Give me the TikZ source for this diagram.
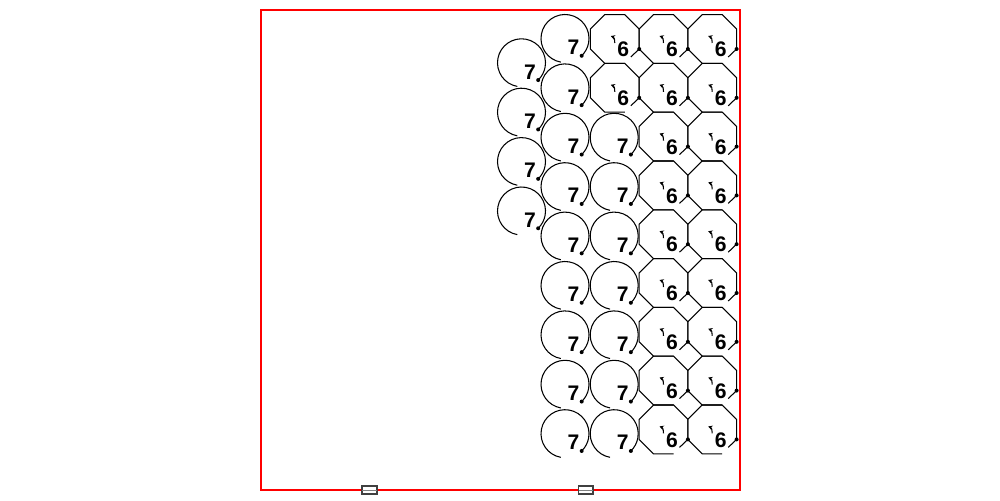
\documentclass[tikz,border=0pt]{standalone}
\usepackage{fontspec}
\setmainfont{Liberation Sans}
\usetikzlibrary{arrows.meta}

\tikzset{
  outline/.style={black, line width=0.6pt},
  digit/.style={inner sep=0pt, font=\fontsize{12}{14}\selectfont\bfseries},
  seven/.pic={
    \draw[outline] (100:24) arc[start angle=100, end angle=406, radius=24];
    \fill (46:24) circle[radius=2];
    \node[digit] (-num) at (8.5,9) {7};
  },
  six/.pic={
    \draw[outline] (10,24.4) -- (-10,24.4) -- (-24.4,10) -- (-24.4,-10) -- (-10,-24.4)
      -- (10,-24.4) -- (24.4,-10) -- (24.4,10) -- (16,18);
    \fill (24.4,10) circle[radius=2];
    \draw[black, line width=0.6pt, -{Stealth[length=2.4pt,width=2.6pt]}] (0,4) to[bend right=40] (-4,-3);
    \node[digit] (-num) at (8.5,10.5) {6};
  }
}

\begin{document}
\begin{tikzpicture}[x=0.02cm, y=-0.02cm]
  \useasboundingbox (0,0) rectangle (1000,500);
  \draw[red, line width=0.6pt] (261,10) rectangle (740,490);
  \draw[darkgray, fill=white, line width=0.6pt] (362,486) rectangle (377,494);
  \draw[gray, line width=0.8pt] (362,490.5) -- (377,490.5);
  \draw[darkgray, fill=white, line width=0.6pt] (578.5,486) rectangle (593,494);
  \draw[gray, line width=0.8pt] (578.5,490.5) -- (593,490.5);

  \pic (a1) at (521.5,62.8) {seven};
  \pic (a2) at (521.5,112.2) {seven};
  \pic (a3) at (521.5,161.6) {seven};
  \pic (a4) at (521.5,211.0) {seven};

  \pic (b1) at (565,38.5) {seven};
  \pic (b2) at (565,87.9) {seven};
  \pic (b3) at (565,137.3) {seven};
  \pic (b4) at (565,186.7) {seven};
  \pic (b5) at (565,236.1) {seven};
  \pic (b6) at (565,285.5) {seven};
  \pic (b7) at (565,334.9) {seven};
  \pic (b8) at (565,384.3) {seven};
  \pic (b9) at (565,433.7) {seven};

  \pic (c1) at (614.8,39) {six};
  \pic (c2) at (614.8,87.8) {six};
  \pic (c3) at (614.2,137.3) {seven};
  \pic (c4) at (614.2,186.7) {seven};
  \pic (c5) at (614.2,236.1) {seven};
  \pic (c6) at (614.2,285.5) {seven};
  \pic (c7) at (614.2,334.9) {seven};
  \pic (c8) at (614.2,384.3) {seven};
  \pic (c9) at (614.2,433.7) {seven};

  \pic (d1) at (663.5,39) {six};
  \pic (d2) at (663.5,87.8) {six};
  \pic (d3) at (663.5,136.6) {six};
  \pic (d4) at (663.5,185.4) {six};
  \pic (d5) at (663.5,234.2) {six};
  \pic (d6) at (663.5,283) {six};
  \pic (d7) at (663.5,331.8) {six};
  \pic (d8) at (663.5,380.6) {six};
  \pic (d9) at (663.5,429.4) {six};

  \pic (e1) at (712.2,39) {six};
  \pic (e2) at (712.2,87.8) {six};
  \pic (e3) at (712.2,136.6) {six};
  \pic (e4) at (712.2,185.4) {six};
  \pic (e5) at (712.2,234.2) {six};
  \pic (e6) at (712.2,283) {six};
  \pic (e7) at (712.2,331.8) {six};
  \pic (e8) at (712.2,380.6) {six};
  \pic (e9) at (712.2,429.4) {six};
\end{tikzpicture}
\end{document}
